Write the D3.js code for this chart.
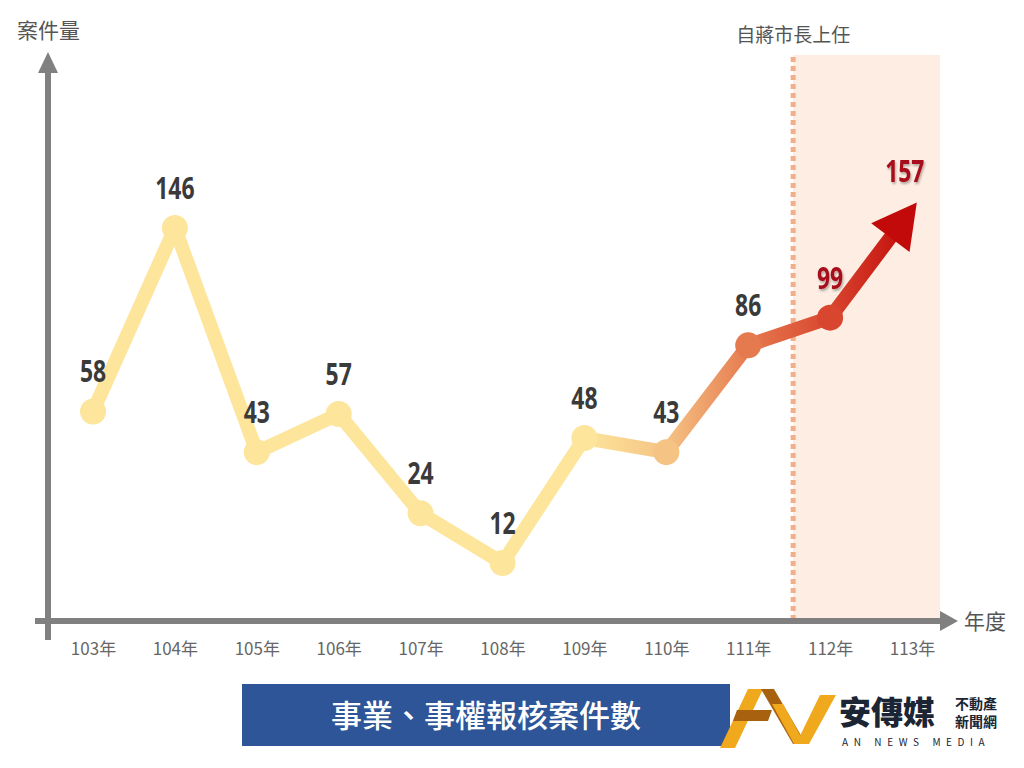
<!DOCTYPE html>
<html lang="zh-Hant">
	<head>
		<meta charset="UTF-8">
		<title>事業、事權報核案件數</title>
		<script src="https://d3js.org/d3.v7.min.js"></script>
		<style>
			body {
				margin: 0;
				background: white;
			}

			text {
				font-family: "Noto Sans CJK TC", "Noto Sans", sans-serif;
			}

			.num {
				font-family: "Liberation Sans Narrow", "Open Sans", "DejaVu Sans Condensed", sans-serif;
				font-weight: bold;
				font-size: 31px;
				text-anchor: middle;
			}

			.xaxis text {
				font-family: "Noto Sans CJK TC", sans-serif;
				font-size: 17px;
				fill: #666;
			}
		</style>
	</head>
	<body>
		<svg id="chart" width="1024" height="768"></svg>
		<script>
			const years = ["103年", "104年", "105年", "106年", "107年", "108年", "109年", "110年", "111年", "112年", "113年"]
			const cases = [58, 146, 43, 57, 24, 12, 48, 43, 86, 99, 157]
			const mayorFrom = "112年"
			const lineColors = ["#fde59b", "#fde59b", "#fde59b", "#fde59b", "#fde59b", "#fde59b", "#fde59b", "#f5c384", "#e67a4f", "#d8462f", "#c20a0a"]
			const labelColors = ["#3a3a3a", "#3a3a3a", "#3a3a3a", "#3a3a3a", "#3a3a3a", "#3a3a3a", "#3a3a3a", "#3a3a3a", "#3a3a3a", "#a8101a", "#a8101a"]

			const svg = d3.select("#chart")
			const data = years.map((y, i) => ({year: y, value: cases[i], i: i}))

			const x = d3.scalePoint().domain(years).range([93, 912])
			// hand drawn chart is not linear, a power scale is the closest fit
			const y = d3.scalePow().exponent(0.6).domain([12, 146]).range([563, 228])

			const defs = svg.append("defs")
			const filter = defs.append("filter").attr("id", "shadow").attr("x", "-20%").attr("y", "-20%").attr("width", "140%").attr("height", "140%")
			filter.append("feDropShadow").attr("dx", 1.5).attr("dy", 2).attr("stdDeviation", 1.2).attr("flood-color", "#000").attr("flood-opacity", 0.3)

			const grad = defs.append("linearGradient")
				.attr("id", "lineGrad")
				.attr("gradientUnits", "userSpaceOnUse")
				.attr("x1", x.range()[0]).attr("x2", x.range()[1])
				.attr("y1", 0).attr("y2", 0)
			data.forEach(function (d) {
				grad.append("stop")
					.attr("offset", (x(d.year) - x.range()[0]) / (x.range()[1] - x.range()[0]))
					.attr("stop-color", lineColors[d.i])
			})

			// highlighted period
			const startX = (x(years[years.indexOf(mayorFrom) - 1]) + x(mayorFrom)) / 2 + 4
			svg.append("rect")
				.attr("x", startX).attr("y", 55)
				.attr("width", 940 - startX).attr("height", 618 - 55)
				.attr("fill", "#fdede3")
			svg.append("line")
				.attr("x1", startX).attr("x2", startX)
				.attr("y1", 57).attr("y2", 618)
				.attr("stroke", "#f1b08a")
				.attr("stroke-width", 5)
				.attr("stroke-dasharray", "5 4")
			svg.append("text")
				.attr("x", startX).attr("y", 42)
				.attr("text-anchor", "middle")
				.attr("font-size", 19)
				.attr("fill", "#555")
				.text("自蔣市長上任")

			// axes
			const axisColor = "#808080"
			svg.append("line")
				.attr("x1", 48).attr("x2", 48).attr("y1", 640).attr("y2", 70)
				.attr("stroke", axisColor).attr("stroke-width", 6)
			svg.append("path")
				.attr("d", "M48,52 L58,73 L38,73 Z")
				.attr("fill", axisColor)
			svg.append("line")
				.attr("x1", 35).attr("x2", 942).attr("y1", 621).attr("y2", 621)
				.attr("stroke", axisColor).attr("stroke-width", 6)
			svg.append("path")
				.attr("d", "M958,621 L940,611 L940,631 Z")
				.attr("fill", axisColor)

			svg.append("text")
				.attr("x", 17).attr("y", 38)
				.attr("font-size", 21)
				.attr("fill", "#555")
				.text("案件量")
			svg.append("text")
				.attr("x", 964).attr("y", 629)
				.attr("font-size", 21)
				.attr("fill", "#555")
				.text("年度")

			svg.append("g")
				.classed("xaxis", true)
				.attr("transform", "translate(0,640)")
				.call(d3.axisBottom(x).tickSize(0).tickPadding(0))
				.call(g => g.select(".domain").remove())
				.selectAll("text")
				.attr("dy", "0.9em")

			// line with arrow at the end
			const last = data[data.length - 1]
			const prev = data[data.length - 2]
			const dx = x(last.year) - x(prev.year)
			const dy = y(last.value) - y(prev.value)
			const len = Math.sqrt(dx * dx + dy * dy)
			const ux = dx / len, uy = dy / len
			const tipX = x(last.year) + ux * 8
			const tipY = y(last.value) + uy * 8
			const headLen = 44, headW = 24

			const line = d3.line()
				.x(d => d.x)
				.y(d => d.y)
			const pts = data.map(d => ({x: x(d.year), y: y(d.value)}))
			pts[pts.length - 1] = {x: tipX - ux * (headLen - 4), y: tipY - uy * (headLen - 4)}

			svg.append("path")
				.datum(pts)
				.attr("d", line)
				.attr("fill", "none")
				.attr("stroke", "url(#lineGrad)")
				.attr("stroke-width", 14)
				.attr("stroke-linejoin", "round")

			const bx = tipX - ux * headLen, by = tipY - uy * headLen
			svg.append("path")
				.attr("d", "M" + tipX + "," + tipY +
					" L" + (bx - uy * headW) + "," + (by + ux * headW) +
					" L" + (bx + uy * headW) + "," + (by - ux * headW) + " Z")
				.attr("fill", lineColors[lineColors.length - 1])

			svg.append("g")
				.selectAll("circle")
				.data(data.slice(0, -1))
				.join("circle")
				.attr("cx", d => x(d.year))
				.attr("cy", d => y(d.value))
				.attr("r", 13)
				.attr("fill", d => lineColors[d.i])

			// condensed look for the value labels
			svg.append("g")
				.selectAll("text")
				.data(data)
				.join("text")
				.classed("num", true)
				.attr("transform", function (d) {
					const tx = d.i === data.length - 1 ? tipX - 12 : x(d.year)
					const ty = d.i === data.length - 1 ? tipY - 20 : y(d.value) - 29
					return "translate(" + tx + "," + ty + ") scale(0.74,1)"
				})
				.attr("fill", d => labelColors[d.i])
				.attr("filter", d => labelColors[d.i] !== "#3a3a3a" ? "url(#shadow)" : null)
				.text(d => d.value)

			// title banner
			svg.append("rect")
				.attr("x", 242).attr("y", 684)
				.attr("width", 488).attr("height", 62)
				.attr("fill", "#2e5597")
			svg.append("text")
				.attr("x", 486).attr("y", 727)
				.attr("text-anchor", "middle")
				.attr("font-size", 31)
				.attr("font-weight", 500)
				.attr("fill", "white")
				.text("事業、事權報核案件數")

			// logo
			const logo = svg.append("g")
			logo.append("polygon").attr("points", "748,689 763,689 735,748 720,748").attr("fill", "#f0a81c")
			logo.append("polygon").attr("points", "761,689 774,689 806,744 793,744").attr("fill", "#a8620f")
			logo.append("polygon").attr("points", "737,710 772,710 768,721 733,721").attr("fill", "#a8620f")
			logo.append("polygon").attr("points", "772,704 783,704 805,744 794,744").attr("fill", "#f0a81c")
			logo.append("polygon").attr("points", "820,695 836,695 809,744 796,744").attr("fill", "#f0a81c")

			svg.append("text")
				.attr("x", 839).attr("y", 724)
				.attr("font-size", 32)
				.attr("font-weight", 900)
				.attr("fill", "#1b2533")
				.text("安傳媒")
			svg.append("text")
				.attr("x", 955).attr("y", 709)
				.attr("font-size", 14)
				.attr("font-weight", 700)
				.attr("fill", "#1b2533")
				.text("不動產")
			svg.append("text")
				.attr("x", 955).attr("y", 727)
				.attr("font-size", 14)
				.attr("font-weight", 700)
				.attr("fill", "#1b2533")
				.text("新聞網")
			svg.append("text")
				.attr("x", 842).attr("y", 746)
				.attr("font-family", "Lato, 'Open Sans', sans-serif")
				.attr("font-size", 10)
				.attr("letter-spacing", 5.6)
				.attr("fill", "#1b2533")
				.text("AN NEWS MEDIA")
		</script>
	</body>
</html>
